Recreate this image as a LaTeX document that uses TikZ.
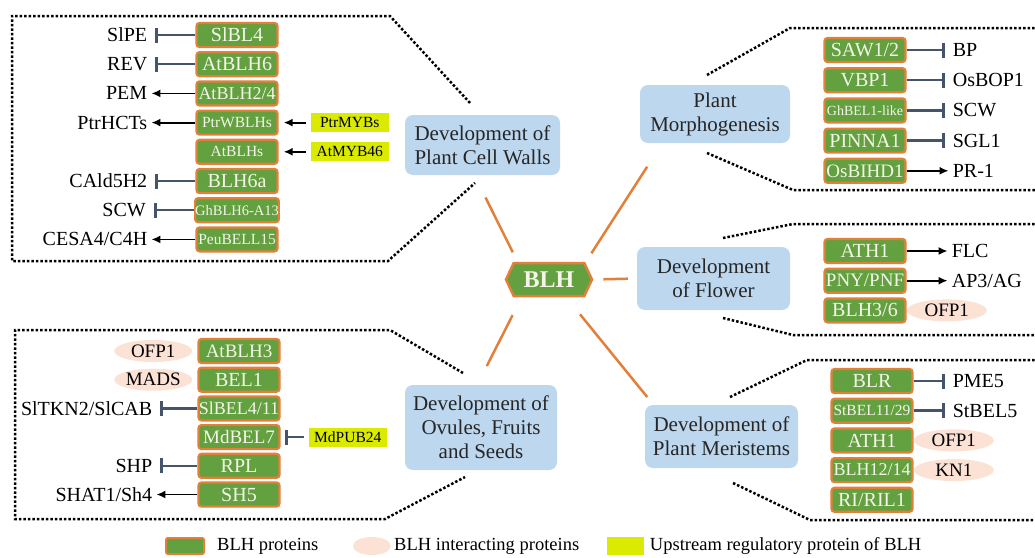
\documentclass[tikz,border=0pt]{standalone}
\usepackage{fontspec}
\setmainfont{Liberation Serif}
\usetikzlibrary{arrows.meta,positioning,shapes.geometric,shapes.symbols}

\definecolor{blhgreen}{RGB}{98,160,64}
\definecolor{blhorange}{RGB}{226,128,58}
\definecolor{blhtext}{RGB}{245,245,232}
\definecolor{topicblue}{RGB}{189,215,238}
\definecolor{peach}{RGB}{251,226,213}
\definecolor{upyellow}{RGB}{218,234,0}
\definecolor{inhgray}{RGB}{68,84,106}

\tikzset{
  blh/.style={draw=blhorange, fill=blhgreen, line width=2.2pt, rounded corners=3pt, text=blhtext,
    minimum width=81pt, minimum height=24pt, inner sep=0pt, font=\fontsize{#1}{#1}\selectfont},
  blh/.default=20,
  hub/.style={signal, signal to=east and west, signal pointer angle=130, draw=blhorange, fill=blhgreen,
    line width=2.5pt, text=blhtext, minimum width=86pt, minimum height=33pt, inner sep=0pt,
    font=\fontsize{24}{24}\selectfont\bfseries},
  topic/.style={fill=topicblue, rounded corners=8pt, align=center, text=black!85,
    font=\fontsize{21}{24}\selectfont, inner sep=0pt},
  partner/.style={ellipse, fill=peach, minimum width=80pt, minimum height=22pt, inner sep=0pt,
    font=\fontsize{19}{19}\selectfont},
  upstream/.style={fill=upyellow, minimum width=78pt, minimum height=19pt, inner sep=0pt,
    font=\fontsize{15.5}{15.5}\selectfont},
  target/.style={inner sep=4pt, font=\fontsize{20}{22}\selectfont},
  inhib/.style={draw=inhgray, line width=2.5pt, shorten >=4pt, -{Bar[width=15pt, line width=3pt]}},
  act/.style={draw=black, line width=1.8pt, -{Latex[length=9pt, width=8pt]}},
  border/.style={line width=2.5pt, dash pattern=on 2.5pt off 2pt},
  stem/.style={draw=blhorange, line width=2.5pt},
  legtext/.style={inner sep=0pt, font=\fontsize{18.5}{18.5}\selectfont}
}

\begin{document}
\begin{tikzpicture}[x=1pt, y=-1pt, node distance=3pt]
\useasboundingbox (0,0) rectangle (1035,557);

% dotted panels
\draw[border] (470,103) -- (390,16) -- (12,16) -- (12,261) -- (388,261) -- (475,183);
\draw[border] (707,75) -- (790,28) -- (1035,28);
\draw[border] (707,153) -- (793,190) -- (1035,190);
\draw[border] (723,238) -- (793,224) -- (1035,224);
\draw[border] (723,318) -- (793,335) -- (1035,335);
\draw[border] (730,397) -- (807,360) -- (1035,360);
\draw[border] (733,483) -- (810,520) -- (1035,520);
\draw[border] (463,373) -- (390,330) -- (15,330) -- (15,519) -- (385,519) -- (465,477);

% hub and topics
\node[hub] (blh) at (549,279.5) {BLH};
\node[topic, minimum width=155pt, minimum height=60pt] (walls) at (482.5,145) {Development of\\Plant Cell Walls};
\node[topic, minimum width=150pt, minimum height=58pt] (morph) at (715,114) {Plant\\Morphogenesis};
\node[topic, minimum width=153pt, minimum height=63pt] (flower) at (713.5,278.5) {Development\\of Flower};
\node[topic, minimum width=153pt, minimum height=63pt] (meri) at (721.5,436.5) {Development of\\Plant Meristems};
\node[topic, minimum width=152pt, minimum height=85pt] (ovule) at (481,427.5) {Development of\\Ovules, Fruits\\and Seeds};

\draw[stem, shorten <=11pt, shorten >=25pt] (blh.151) -- (walls.255);
\draw[stem, shorten <=11pt, shorten >=28pt] (blh.25) -- (morph.209);
\draw[stem, shorten <=10pt, shorten >=9pt] (blh.east) -- (flower.west);
\draw[stem, shorten <=22pt, shorten >=10pt] (blh.314) -- (meri.155);
\draw[stem, shorten <=20pt, shorten >=21pt] (blh.213) -- (ovule.95);

% cell walls
\node[blh] (wa1) at (237,35) {SlBL4};
\node[blh, below=of wa1] (wa2) {AtBLH6};
\node[blh=18, below=of wa2] (wa3) {AtBLH2/4};
\node[blh=15.5, below=of wa3] (wa4) {PtrWBLHs};
\node[blh=15.5, below=of wa4] (wa5) {AtBLHs};
\node[blh, below=of wa5] (wa6) {BLH6a};
\node[blh=14.5, below=of wa6] (wa7) {GhBLH6-A13};
\node[blh=15.5, below=of wa7] (wa8) {PeuBELL15};
\node[target, left=44pt of wa1] (ta1) {SlPE};
\node[target, left=44pt of wa2] (ta2) {REV};
\node[target, left=44pt of wa3] (ta3) {PEM};
\node[target, left=44pt of wa4] (ta4) {PtrHCTs};
\node[target, left=44pt of wa6] (ta6) {CAld5H2};
\node[target, left=44pt of wa7] (ta7) {SCW};
\node[target, left=44pt of wa8] (ta8) {CESA4/C4H};
\node[upstream, right=32pt of wa4] (up1) {PtrMYBs};
\node[upstream, right=32pt of wa5] (up2) {AtMYB46};
\draw[inhib] (wa1.west) -- (ta1.east);
\draw[inhib] (wa2.west) -- (ta2.east);
\draw[act] (wa3.west) -- (ta3.east);
\draw[act] (wa4.west) -- (ta4.east);
\draw[inhib] (wa6.west) -- (ta6.east);
\draw[inhib] (wa7.west) -- (ta7.east);
\draw[act] (wa8.west) -- (ta8.east);
\draw[act, shorten <=5pt, shorten >=5pt] (up1.west) -- (wa4.east);
\draw[act, shorten <=5pt, shorten >=5pt] (up2.west) -- (wa5.east);

% morphogenesis
\node[blh] (mo1) at (865,50) {SAW1/2};
\node[blh, below=4pt of mo1] (mo2) {VBP1};
\node[blh=14, below=4pt of mo2] (mo3) {GhBEL1-like};
\node[blh, below=4pt of mo3] (mo4) {PINNA1};
\node[blh=19, below=4pt of mo4] (mo5) {OsBIHD1};
\node[target, right=42pt of mo1] (tm1) {BP};
\node[target, right=42pt of mo2] (tm2) {OsBOP1};
\node[target, right=42pt of mo3] (tm3) {SCW};
\node[target, right=42pt of mo4] (tm4) {SGL1};
\node[target, right=42pt of mo5] (tm5) {PR-1};
\draw[inhib] (mo1.east) -- (tm1.west);
\draw[inhib] (mo2.east) -- (tm2.west);
\draw[inhib] (mo3.east) -- (tm3.west);
\draw[inhib] (mo4.east) -- (tm4.west);
\draw[act] (mo5.east) -- (tm5.west);

% flower
\node[blh] (fl1) at (865,251) {ATH1};
\node[blh=19, below=3.5pt of fl1] (fl2) {PNY/PNF};
\node[blh, below=3.5pt of fl2] (fl3) {BLH3/6};
\node[target, right=41pt of fl1] (tf1) {FLC};
\node[target, right=41pt of fl2] (tf2) {AP3/AG};
\node[partner, right=0pt of fl3] (pf3) {OFP1};
\draw[act] (fl1.east) -- (tf1.west);
\draw[act] (fl2.east) -- (tf2.west);

% meristems
\node[blh] (me1) at (872,381) {BLR};
\node[blh=15.5, below=3.5pt of me1] (me2) {StBEL11/29};
\node[blh, below=3.5pt of me2] (me3) {ATH1};
\node[blh=18, below=3.5pt of me3] (me4) {BLH12/14};
\node[blh, below=3.5pt of me4] (me5) {RI/RIL1};
\node[target, right=35pt of me1] (te1) {PME5};
\node[target, right=35pt of me2] (te2) {StBEL5};
\node[partner, right=0pt of me3] (pe3) {OFP1};
\node[partner, right=0pt of me4] (pe4) {KN1};
\draw[inhib] (me1.east) -- (te1.west);
\draw[inhib] (me2.east) -- (te2.west);

% ovules, fruits and seeds
\node[blh=19] (ov1) at (239,351) {AtBLH3};
\node[blh, below=2.5pt of ov1] (ov2) {BEL1};
\node[blh=18, below=2.5pt of ov2] (ov3) {SlBEL4/11};
\node[blh=19, below=2.5pt of ov3] (ov4) {MdBEL7};
\node[blh, below=2.5pt of ov4] (ov5) {RPL};
\node[blh, below=2.5pt of ov5] (ov6) {SH5};
\node[partner, minimum width=78pt, left=5pt of ov1] (po1) {OFP1};
\node[partner, minimum width=78pt, left=5pt of ov2] (po2) {MADS};
\node[target, left=41pt of ov3] (to3) {SlTKN2/SlCAB};
\node[target, left=41pt of ov5] (to5) {SHP};
\node[target, left=41pt of ov6] (to6) {SHAT1/Sh4};
\node[upstream, right=28pt of ov4] (up3) {MdPUB24};
\draw[inhib] (ov3.west) -- (to3.east);
\draw[inhib] (ov5.west) -- (to5.east);
\draw[act] (ov6.west) -- (to6.east);
\draw[inhib, shorten <=5pt, shorten >=4pt] (up3.west) -- (ov4.east);

% legend
\node[blh, minimum width=38pt, minimum height=16pt, rounded corners=2pt, line width=2pt] (lg1) at (185,546) {};
\node[legtext, right=12pt of lg1] (lt1) {BLH proteins};
\node[partner, minimum width=38pt, minimum height=18pt, right=34pt of lt1] (lg2) {};
\node[legtext, right=3pt of lg2] (lt2) {BLH interacting proteins};
\node[upstream, minimum width=37pt, minimum height=18pt, right=27pt of lt2] (lg3) {};
\node[legtext, right=6pt of lg3] (lt3) {Upstream regulatory protein of BLH};
\end{tikzpicture}
\end{document}
